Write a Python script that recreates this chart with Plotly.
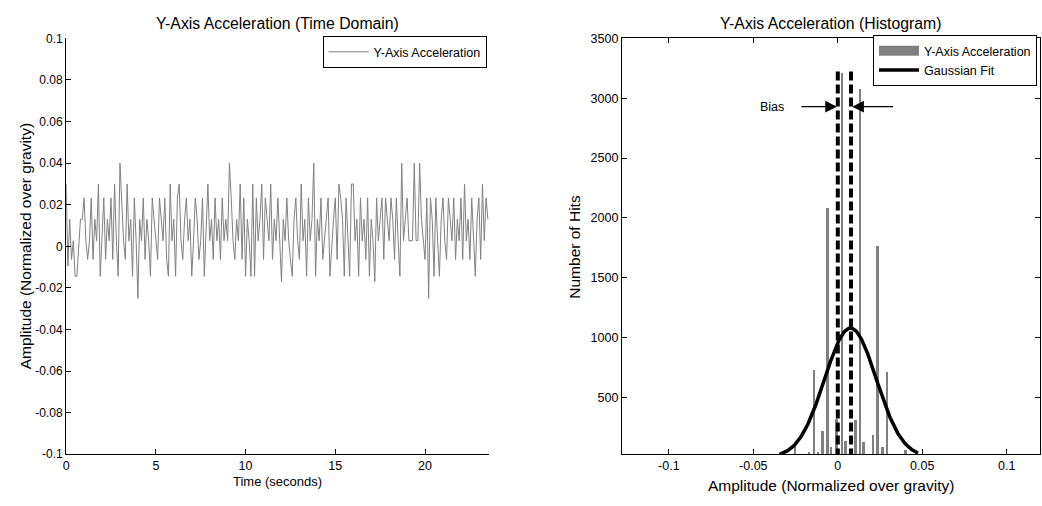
import numpy as np
import plotly.graph_objects as go

W, H = 1042, 506
FONT = "Liberation Sans, Arial, sans-serif"

# ---------------- data ----------------
dt = 0.1
accel_y = [
    0.030, -0.0095, 0.013, -0.0063, 0.0027, -0.0144, -0.0144, 0.0027, 0.013, 0.013,
    0.0233, 0.0027, -0.0063, 0.0027, 0.0233, -0.0063, 0.013, 0.0027, 0.030, -0.0144,
    0.0027, 0.0233, -0.0063, 0.013, 0.0027, 0.0233, -0.0063, 0.030, 0.0027, -0.0144,
    0.040, 0.0233, 0.0027, -0.0063, 0.030, 0.0027, 0.013, -0.0144, 0.0233, 0.0027,
    -0.025, 0.013, 0.0027, 0.0233, -0.0063, 0.013, 0.0027, -0.0144, 0.0233, 0.013,
    0.0027, -0.0063, 0.0233, 0.013, 0.0027, 0.0233, -0.0063, -0.0144, 0.030, 0.0027,
    0.013, -0.0144, 0.0233, 0.030, 0.0027, -0.0063, 0.013, 0.0233, 0.0027, 0.013,
    -0.0144, 0.0027, 0.0233, 0.013, -0.0063, 0.0027, 0.0233, -0.0144, 0.013, 0.030,
    0.0027, 0.013, -0.0063, 0.0233, 0.0027, 0.013, -0.0063, 0.0233, 0.0027, 0.013,
    0.0027, 0.040, 0.0233, 0.0027, -0.0063, 0.013, 0.0027, 0.030, -0.0063, 0.0233,
    -0.0144, 0.013, 0.0027, -0.0144, 0.030, -0.0144, 0.0233, 0.0027, 0.013, 0.030,
    -0.0063, 0.0233, 0.013, 0.0027, 0.030, -0.0063, 0.013, 0.0027, 0.0233, 0.0027,
    -0.017, 0.013, 0.0027, 0.0233, 0.0027, -0.0063, -0.0144, 0.013, 0.0233, 0.0027,
    -0.0063, 0.030, 0.0027, 0.013, -0.0144, 0.0233, 0.0027, 0.013, 0.040, -0.0144,
    0.013, 0.0027, 0.0233, -0.0063, 0.0027, 0.013, 0.0233, -0.0144, 0.0027, 0.013,
    0.0233, -0.0063, 0.030, 0.0233, 0.013, -0.0144, 0.0233, 0.0027, -0.0144, 0.030,
    0.030, 0.0027, 0.013, -0.0144, 0.0233, 0.0027, 0.013, -0.0063, 0.0233, -0.0144,
    0.013, 0.0027, -0.017, 0.0233, 0.0027, 0.013, 0.0233, -0.0063, 0.0233, 0.013,
    0.0027, 0.0233, 0.013, -0.0063, 0.0233, 0.0027, -0.0144, 0.040, 0.0027, 0.013,
    0.0233, 0.0027, 0.0027, 0.0027, 0.040, 0.0027, 0.0027, 0.040, 0.013, 0.0027,
    -0.0063, 0.0233, -0.025, 0.0233, 0.013, -0.0144, 0.0233, 0.0027, -0.0144, 0.013,
    0.0233, 0.0027, -0.0063, 0.0233, 0.013, 0.0027, 0.0233, -0.0063, 0.013, 0.0027,
    0.0233, -0.0063, 0.030, 0.0027, 0.013, -0.0063, 0.0233, 0.0027, -0.0144, 0.013,
    0.0233, -0.0063, 0.030, 0.0027, 0.0233, 0.013,
]
time_s = [round(i * dt, 3) for i in range(len(accel_y))]

hist_centers = [-0.0336, -0.0254, -0.0171, -0.0142, -0.0118, -0.0090, -0.0060, -0.0040,
                -0.0008, 0.0024, 0.0045, 0.0106, 0.0130, 0.0153, 0.0208, 0.0236,
                0.0264, 0.0291, 0.0400]
hist_counts = [40, 120, 45, 725, 40, 220, 2080, 80,
               320, 3210, 135, 310, 3075, 125, 180, 1765,
               85, 708, 58]
bar_width = 0.0016

fit_mean = 0.0075
fit_sigma = 0.0153
fit_peak = 1080
fit_span = [-0.0345, 0.0475]

bias_x = [0.0, 0.0078]
bias_top = 3250

left_yticks = [0.1, 0.08, 0.06, 0.04, 0.02, 0, -0.02, -0.04, -0.06, -0.08, -0.1]
left_yticktext = ["0.1", "0.08", "0.06", "0.04", "0.02", "0", "-0.02", "-0.04", "-0.06", "-0.08", "-0.1"]
left_xticks = [0, 5, 10, 15, 20]
right_xticks = [-0.1, -0.05, 0, 0.05, 0.1]
right_xticktext = ["-0.1", "-0.05", "0", "0.05", "0.1"]
right_yticks = [500, 1000, 1500, 2000, 2500, 3000, 3500]

# ---------------- layout geometry (pixels) ----------------
def px(x):
    return x / W

def py(y):
    return 1 - y / H

L_left, L_right, top, bot = 63.3, 487.7, 32.3, 460.0
R_left, R_right = 620.7, 1040.0

GRAY = "#808080"

fig = go.Figure()

fig.add_trace(go.Scatter(
    x=time_s, y=accel_y, mode="lines", name="Y-Axis Acceleration",
    line=dict(color=GRAY, width=1), xaxis="x", yaxis="y", legend="legend",
))

fig.add_trace(go.Bar(
    x=hist_centers, y=hist_counts, width=bar_width, marker=dict(color=GRAY, line=dict(width=0)),
    xaxis="x2", yaxis="y2", showlegend=False, name="Y-Axis Acceleration",
))

for bx in bias_x:
    fig.add_trace(go.Scatter(
        x=[bx, bx], y=[0, bias_top], mode="lines",
        line=dict(color="black", width=4, dash="9px,4px"),
        xaxis="x2", yaxis="y2", showlegend=False, hoverinfo="skip",
    ))

gx = np.linspace(fit_span[0], fit_span[1], 200)
gy = fit_peak * np.exp(-((gx - fit_mean) ** 2) / (2 * fit_sigma ** 2))
fig.add_trace(go.Scatter(
    x=gx, y=gy, mode="lines", line=dict(color="black", width=3.5),
    xaxis="x2", yaxis="y2", showlegend=False, name="Gaussian Fit",
))

# legend entries for right panel
fig.add_trace(go.Scatter(
    x=[None], y=[None], mode="lines", name="Y-Axis Acceleration",
    line=dict(color=GRAY, width=13), xaxis="x2", yaxis="y2", legend="legend2",
))
fig.add_trace(go.Scatter(
    x=[None], y=[None], mode="lines", name="Gaussian Fit",
    line=dict(color="black", width=3.5), xaxis="x2", yaxis="y2", legend="legend2",
))

axis_common = dict(
    showgrid=False, zeroline=False, showline=True, linecolor="black", linewidth=1,
    ticks="inside", ticklen=5, tickcolor="black", tickwidth=1,
    tickfont=dict(family=FONT, size=12.5, color="black"),
)

fig.update_layout(
    width=W, height=H,
    margin=dict(l=0, r=0, t=0, b=0),
    paper_bgcolor="white", plot_bgcolor="white",
    font=dict(family=FONT, color="black"),
    xaxis=dict(domain=[px(L_left), px(L_right)], range=[0, 23.58],
               tickvals=left_xticks, anchor="y", **axis_common),
    yaxis=dict(domain=[py(bot), py(top)], range=[-0.1, 0.1],
               tickvals=left_yticks, ticktext=left_yticktext, anchor="x",
               **{**axis_common, "tickfont": dict(family=FONT, size=12, color="black")}),
    xaxis2=dict(domain=[px(R_left), px(R_right)], range=[-0.1278, 0.1197],
                tickvals=right_xticks, ticktext=right_xticktext, anchor="y2",
                mirror="ticks", **axis_common),
    yaxis2=dict(domain=[py(bot), py(top)], range=[26, 3500],
                tickvals=right_yticks, anchor="x2", mirror="ticks", **axis_common),
    bargap=0,
    legend=dict(x=px(485), y=py(30), xanchor="right", yanchor="top", itemwidth=40,
                bordercolor="black", borderwidth=1, bgcolor="white",
                font=dict(family=FONT, size=12.5, color="black")),
    legend2=dict(x=px(1037), y=py(29), xanchor="right", yanchor="top", itemwidth=40,
                 bordercolor="black", borderwidth=1, bgcolor="white",
                 font=dict(family=FONT, size=12.5, color="black")),
    showlegend=True,
)

annotations = [
    dict(text="Y-Axis Acceleration (Time Domain)", x=px((L_left + L_right) / 2), y=py(17),
         font=dict(size=15.8)),
    dict(text="Y-Axis Acceleration (Histogram)", x=px((R_left + R_right) / 2), y=py(17),
         font=dict(size=15.8)),
    dict(text="Time (seconds)", x=px((L_left + L_right) / 2), y=py(488), font=dict(size=13)),
    dict(text="Amplitude (Normalized over gravity)", x=px((R_left + R_right) / 2), y=py(492),
         font=dict(size=15.5)),
    dict(text="Amplitude (Normalized over gravity)", x=px(22), y=py((top + bot) / 2),
         textangle=-90, font=dict(size=15.5)),
    dict(text="Number of Hits", x=px(573), y=py((top + bot) / 2), textangle=-90,
         font=dict(size=15.5)),
]
for a in annotations:
    a.update(xref="paper", yref="paper", showarrow=False, xanchor="center", yanchor="middle")
    a["font"] = dict(family=FONT, color="black", **a["font"])

# Bias arrows
annotations += [
    dict(x=-0.0005, y=2930, ax=-0.0224, ay=2930, xref="x2", yref="y2", axref="x2", ayref="y2",
         showarrow=True, arrowhead=2, arrowsize=1.8, arrowwidth=1.3, arrowcolor="black", text=""),
    dict(x=0.0085, y=2930, ax=0.0336, ay=2930, xref="x2", yref="y2", axref="x2", ayref="y2",
         showarrow=True, arrowhead=2, arrowsize=1.8, arrowwidth=1.3, arrowcolor="black", text=""),
    dict(x=-0.0388, y=2930, xref="x2", yref="y2", text="Bias", showarrow=False,
         font=dict(family=FONT, size=12.5, color="black")),
]
fig.update_layout(annotations=annotations)

fig.write_html("out.html")
